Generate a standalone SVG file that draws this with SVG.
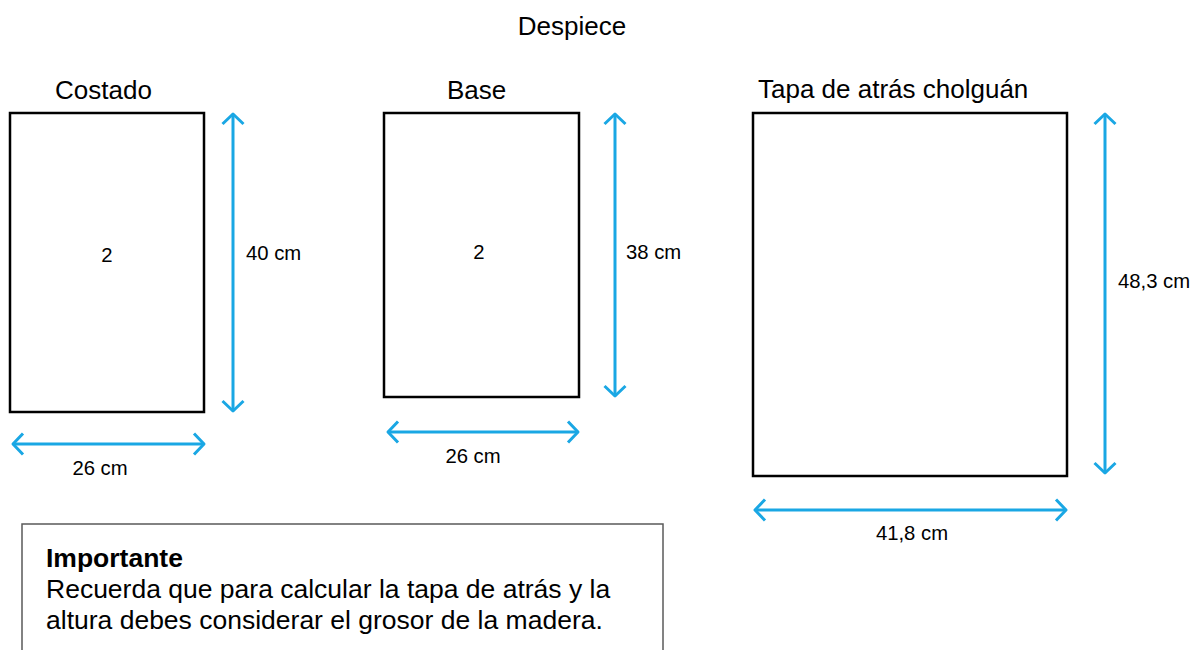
<svg xmlns="http://www.w3.org/2000/svg" width="1197" height="650" viewBox="0 0 1197 650">
  <style>
    text { font-family: "Liberation Sans", Arial, sans-serif; fill: #000; }
    .title { font-size: 26px; }
    .dim { font-size: 20.3px; }
    .piece { fill: #fff; stroke: #000; stroke-width: 2.5; }
    .arrow { fill: none; stroke: #1aa7e4; stroke-width: 3; marker-start: url(#chev); marker-end: url(#chev); }
    .note { fill: #fff; stroke: #5a5a5a; stroke-width: 1.5; }
    .notetext { font-size: 26.5px; }
  </style>
  <defs>
    <marker id="chev" markerUnits="userSpaceOnUse" markerWidth="30" markerHeight="30" viewBox="-15 -15 30 30" refX="0" refY="0" orient="auto-start-reverse">
      <path d="M-10,-10.5 L0,0 L-10,10.5" fill="none" stroke="#1aa7e4" stroke-width="3" stroke-linecap="butt" stroke-linejoin="round"/>
    </marker>
  </defs>
  <rect width="1197" height="650" fill="#fff"/>
  <text class="title" x="572" y="35" text-anchor="middle">Despiece</text>

  <g id="costado">
    <text class="title" x="55" y="99">Costado</text>
    <rect class="piece" x="10" y="113" width="194" height="299"/>
    <text class="dim" x="107" y="262" text-anchor="middle">2</text>
    <text class="dim" x="246" y="260">40 cm</text>
    <text class="dim" x="100" y="475" text-anchor="middle">26 cm</text>
  </g>

  <g id="base">
    <text class="title" x="447" y="99">Base</text>
    <rect class="piece" x="384" y="113" width="195" height="284"/>
    <text class="dim" x="479" y="259" text-anchor="middle">2</text>
    <text class="dim" x="626" y="259">38 cm</text>
    <text class="dim" x="473" y="463" text-anchor="middle">26 cm</text>
  </g>

  <g id="tapa">
    <text class="title" x="758" y="98">Tapa de atrás cholguán</text>
    <rect class="piece" x="753" y="113" width="314" height="363"/>
    <text class="dim" x="1118" y="288">48,3 cm</text>
    <text class="dim" x="912" y="540" text-anchor="middle">41,8 cm</text>
  </g>

  <g id="connectors">
    <line class="arrow" x1="233" y1="114" x2="233" y2="411"/>
    <line class="arrow" x1="13" y1="444" x2="204" y2="444"/>
    <line class="arrow" x1="615" y1="114" x2="615" y2="396"/>
    <line class="arrow" x1="388" y1="432" x2="578" y2="432"/>
    <line class="arrow" x1="1105" y1="114" x2="1105" y2="473"/>
    <line class="arrow" x1="755" y1="510" x2="1066" y2="510"/>
  </g>

  <g id="nota">
    <rect class="note" x="22" y="524" width="641" height="140"/>
    <text class="notetext" x="46" y="567" font-weight="bold">Importante</text>
    <text class="notetext" x="46" y="598">Recuerda que para calcular la tapa de atrás y la</text>
    <text class="notetext" x="46" y="629">altura debes considerar el grosor de la madera.</text>
  </g>
</svg>
